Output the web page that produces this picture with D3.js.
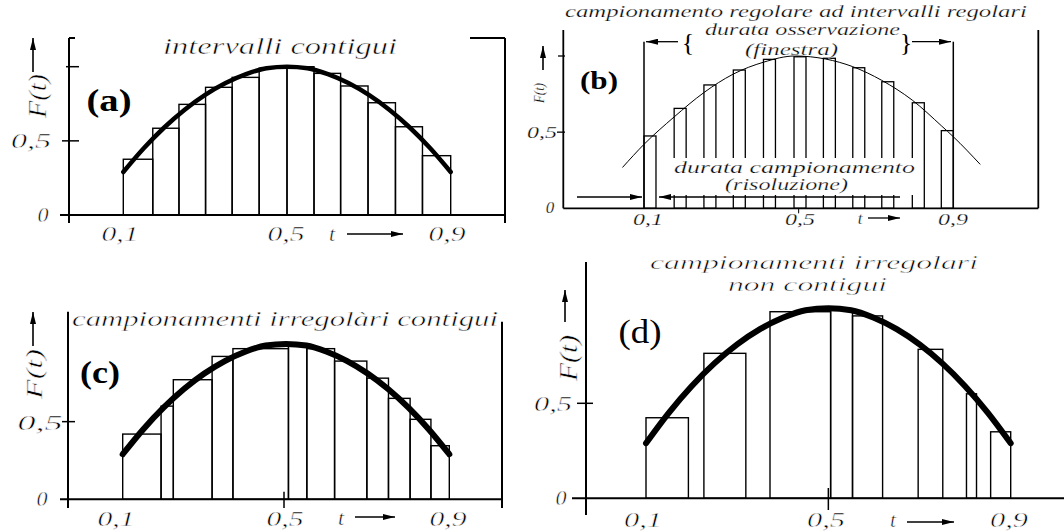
<!DOCTYPE html>
<html>
<head>
<meta charset="utf-8">
<script src="https://cdn.jsdelivr.net/npm/d3@7"></script>
<style>
  body { margin: 0; background: #fff; }
</style>
</head>
<body>
<div id="chart"></div>
<script>
// F(t) (a), (c), (d)
const curveT = [0.1, 0.15, 0.2, 0.25, 0.3, 0.35, 0.4, 0.45, 0.5, 0.55, 0.6, 0.65, 0.7, 0.75, 0.8, 0.85, 0.9];
const curveF = [0.29, 0.45, 0.59, 0.71, 0.81, 0.89, 0.95, 0.99, 1.0, 0.99, 0.95, 0.89, 0.81, 0.71, 0.59, 0.45, 0.29];

// thin curve of panel (b)
const curveBT = [0.045, 0.1, 0.178, 0.255, 0.33, 0.41, 0.49, 0.57, 0.64, 0.715, 0.794, 0.87, 0.9, 0.969];
const curveBF = [0.27, 0.42, 0.6, 0.76, 0.88, 0.96, 1.0, 0.98, 0.93, 0.84, 0.71, 0.54, 0.47, 0.29];

// (a) contiguous intervals
const barsAEdges   = [0.1, 0.172, 0.236, 0.301, 0.366, 0.432, 0.5, 0.566, 0.631, 0.698, 0.765, 0.831, 0.9];
const barsAHeights = [0.376, 0.585, 0.746, 0.861, 0.928, 0.99, 1.0, 0.955, 0.87, 0.757, 0.595, 0.40];

// (b) regular sampling, short windows
const barsBStart   = [0.1, 0.178, 0.255, 0.331, 0.409, 0.488, 0.564, 0.64, 0.715, 0.794, 0.869];
const barsBWidth   = 0.031;
const barsBHeights = [0.475, 0.656, 0.81, 0.908, 0.978, 0.995, 0.985, 0.923, 0.831, 0.693, 0.51];

// (c) irregular contiguous
const barsCEdges   = [0.1, 0.194, 0.224, 0.319, 0.37, 0.506, 0.551, 0.619, 0.698, 0.751, 0.804, 0.855, 0.9];
const barsCHeights = [0.42, 0.6, 0.77, 0.92, 0.97, 1.0, 0.97, 0.89, 0.78, 0.65, 0.515, 0.345];

// (d) irregular, not contiguous
const barsDStart   = [0.1, 0.227, 0.372, 0.505, 0.553, 0.697, 0.803, 0.856];
const barsDEnd     = [0.193, 0.319, 0.505, 0.553, 0.619, 0.751, 0.825, 0.9];
const barsDHeights = [0.424, 0.763, 0.982, 0.995, 0.96, 0.784, 0.55, 0.35];

const xTickVals   = [0.1, 0.5, 0.9];
const xTickLabels = ["0,1", "0,5", "0,9"];
const yTickVals   = [0, 0.5];
const yTickLabels = ["0", "0,5"];

const W = 1064, H = 532;
const ITAL = "'Liberation Serif', 'DejaVu Serif', serif";
const BOLD = "'Liberation Serif', 'DejaVu Serif', serif";

const svg = d3.select("#chart").append("svg")
  .attr("width", W)
  .attr("height", H)
  .style("background", "#fff");

svg.append("defs").append("marker")
  .attr("id", "arr")
  .attr("viewBox", "0 0 12 6")
  .attr("refX", 12).attr("refY", 3)
  .attr("markerWidth", 12).attr("markerHeight", 6)
  .attr("markerUnits", "userSpaceOnUse")
  .attr("orient", "auto")
  .append("path").attr("d", "M0,0 L12,3 L0,6 Z").attr("fill", "#000");

// small helpers
function seg(g, x1, y1, x2, y2, sw = 2) {
  return g.append("line")
    .attr("x1", x1).attr("y1", y1).attr("x2", x2).attr("y2", y2)
    .attr("stroke", "#000").attr("stroke-width", sw);
}
function arrow(g, x1, y1, x2, y2, sw = 1.5) {
  return seg(g, x1, y1, x2, y2, sw).attr("marker-end", "url(#arr)");
}
// the original lettering is a light face: erode the glyphs with a thin white stroke
const thin = size => (size > 18 ? 0.5 : 0.25);

function txt(g, s, x, y, size, opt = {}) {
  const t = g.append("text")
    .attr("x", x).attr("y", y)
    .attr("text-anchor", opt.anchor || "middle")
    .attr("font-family", opt.family || ITAL)
    .attr("font-style", opt.style || "italic")
    .attr("font-weight", opt.weight || "normal")
    .attr("font-size", size)
    .attr("fill", "#000")
    .text(s);
  if (!opt.style) t.attr("stroke", "#fff").attr("stroke-width", thin(size));
  if (opt.len) t.attr("textLength", opt.len).attr("lengthAdjust", "spacingAndGlyphs");
  return t;
}
function yLabel(g, cx, cy, size, len, ax, ay1, ay2) {
  g.append("text")
    .attr("transform", `translate(${cx},${cy}) rotate(-90)`)
    .attr("text-anchor", "middle")
    .attr("dy", "0.35em")
    .attr("font-family", ITAL).attr("font-style", "italic")
    .attr("font-size", size)
    .attr("stroke", "#fff").attr("stroke-width", thin(size))
    .attr("textLength", len).attr("lengthAdjust", "spacingAndGlyphs")
    .text("F(t)");
  arrow(g, ax, ay1, ax, ay2, 1.6);
}
function drawBars(g, x, y, starts, ends, heights, sw = 1.4) {
  g.append("g").selectAll("rect")
    .data(heights.map((h, i) => ({ s: starts[i], e: ends[i], h })))
    .join("rect")
      .attr("x", d => x(d.s))
      .attr("y", d => y(d.h))
      .attr("width", d => x(d.e) - x(d.s))
      .attr("height", d => y(0) - y(d.h))
      .attr("fill", "none")
      .attr("stroke", "#000")
      .attr("stroke-width", sw);
}
function drawCurve(g, x, y, ts, fs, sw) {
  const line = d3.line().x(d => x(d[0])).y(d => y(d[1])).curve(d3.curveMonotoneX);
  g.append("path")
    .attr("d", line(ts.map((t, i) => [t, fs[i]])))
    .attr("fill", "none")
    .attr("stroke", "#000")
    .attr("stroke-width", sw)
    .attr("stroke-linecap", "round");
}

// ---------- (a) ----------
{
  const g = svg.append("g");
  const x = d3.scaleLinear().domain([0.1, 0.9]).range([123.3, 450.7]);
  const y = d3.scaleLinear().domain([0, 1]).range([215, 66.7]);

  drawBars(g, x, y, barsAEdges.slice(0, -1), barsAEdges.slice(1), barsAHeights);
  drawCurve(g, x, y, curveT, curveF, 4.5);

  seg(g, 69, 38, 69, 223);
  seg(g, 69, 38, 75, 38);
  seg(g, 60, y(0), 505, y(0));
  seg(g, 505, 38, 505, 223);
  seg(g, 470, 38, 505, 38);
  seg(g, 62, y(0.5), 79, y(0.5), 1.5);
  seg(g, 66, y(1), 79, y(1), 1.5);

  txt(g, yTickLabels[0], 43, y(0) + 7, 22);
  txt(g, yTickLabels[1], 31, y(0.5) + 7, 22, { len: 40 });
  [120, 286, 447].forEach((cx, i) => txt(g, xTickLabels[i], cx, 241, 22, { len: 37 }));
  txt(g, "t", 332, 241, 22);
  arrow(g, 347, 234, 403, 234, 1.6);

  yLabel(g, 37, 96, 25, 44, 33, 72, 38);
  txt(g, "(a)", 109, 111, 31, { family: BOLD, style: "normal", weight: "bold", len: 45 });
  txt(g, "intervalli contigui", 280, 54, 23, { len: 234 });
}

// ---------- (b) ----------
{
  const g = svg.append("g");
  const x = d3.scaleLinear().domain([0.1, 0.9]).range([644, 953.3]);
  const y = d3.scaleLinear().domain([0, 1]).range([208.3, 56]);

  drawBars(g, x, y, barsBStart, barsBStart.map(s => s + barsBWidth), barsBHeights, 1.3);
  drawCurve(g, x, y, curveBT, curveBF, 1);

  // observation window
  seg(g, x(0.1), 41.7, x(0.1), y(0), 1.5);
  seg(g, x(0.9), 41.7, x(0.9), y(0), 1.5);

  seg(g, 563.3, 30, 563.3, y(0), 1.8);
  seg(g, 563.3, y(0), 1038.3, y(0), 1.8);
  seg(g, 1038.3, 30, 1038.3, y(0), 1.8);
  seg(g, 558, y(1), 565, y(1), 1.3);
  seg(g, 557, y(0.5), 565, y(0.5), 1.3);
  seg(g, x(0.5), y(0), x(0.5), y(0) + 5, 1);

  // white field behind the sampling note
  g.append("rect").attr("x", 668).attr("y", 158).attr("width", 248).attr("height", 37).attr("fill", "#fff");
  txt(g, "durata campionamento", 794.5, 173, 17, { len: 241 });
  txt(g, "(risoluzione)", 786.5, 190, 16, { len: 123 });
  arrow(g, 900, 197, 659, 197, 1.3);
  arrow(g, 577, 197, 642, 197, 1.3);

  arrow(g, 678, 41.7, 646, 41.7, 1.3);
  arrow(g, 912, 41.7, 951, 41.7, 1.3);
  txt(g, "{", 688, 51, 26, { family: BOLD, style: "normal" });
  txt(g, "}", 906, 51, 26, { family: BOLD, style: "normal" });
  txt(g, "durata osservazione", 802.5, 35, 17, { len: 195 });
  txt(g, "(finestra)", 791.5, 55, 16, { len: 93 });
  txt(g, "campionamento regolare ad intervalli regolari", 796, 17, 17, { len: 462 });

  [648, 800, 953].forEach((cx, i) => txt(g, xTickLabels[i], cx, 225, 17, { len: 30 }));
  txt(g, "t", 860, 224, 17);
  arrow(g, 868, 218, 900, 218, 1.3);
  txt(g, yTickLabels[0], 550, 213, 17);
  txt(g, yTickLabels[1], 542, 138, 17, { len: 30 });

  yLabel(g, 539, 93, 14, 20, 543, 70, 46);
  txt(g, "(b)", 599, 89, 26, { family: BOLD, style: "normal", weight: "bold", len: 38 });
}

// ---------- (c) ----------
{
  const g = svg.append("g");
  const x = d3.scaleLinear().domain([0.1, 0.9]).range([122.7, 449.3]);
  const y = d3.scaleLinear().domain([0, 1]).range([499.3, 344]);

  drawBars(g, x, y, barsCEdges.slice(0, -1), barsCEdges.slice(1), barsCHeights);
  drawCurve(g, x, y, curveT, curveF, 6);

  seg(g, 68, 311.7, 68, 508);
  seg(g, 60, y(0), 502, y(0));
  seg(g, 502, 321.7, 502, 508);
  seg(g, 62, y(0.5), 75, y(0.5), 1.5);
  seg(g, x(0.5) - 2, 491.7, x(0.5) - 2, 508, 1.5);

  txt(g, yTickLabels[0], 42, 506, 22);
  txt(g, yTickLabels[1], 40, 430, 22, { len: 45 });
  [116, 285, 448].forEach((cx, i) => txt(g, xTickLabels[i], cx, 526, 22, { len: 37 }));
  txt(g, "t", 341, 525, 22);
  arrow(g, 355, 517, 395, 517, 1.6);

  yLabel(g, 34, 374, 24, 50, 33, 346, 312);
  txt(g, "(c)", 100, 383, 31, { family: BOLD, style: "normal", weight: "bold", len: 40 });
  txt(g, "campionamenti irregolàri contigui", 285, 326, 22, { len: 426 });
}

// ---------- (d) ----------
{
  const g = svg.append("g");
  const x = d3.scaleLinear().domain([0.1, 0.9]).range([646, 1010.7]);
  const y = d3.scaleLinear().domain([0, 1]).range([498.3, 308.3]);

  drawBars(g, x, y, barsDStart, barsDEnd, barsDHeights);
  drawCurve(g, x, y, curveT, curveF, 6);

  seg(g, 586, 262, 586, 515);
  seg(g, 572, y(0), 1064, y(0));
  seg(g, 577, y(0.5), 593, y(0.5), 1.5);
  seg(g, x(0.5), 488, x(0.5), 510, 1.5);

  txt(g, yTickLabels[0], 561, 505, 22);
  txt(g, yTickLabels[1], 553, 411, 22, { len: 38 });
  [643, 826, 1009].forEach((cx, i) => txt(g, xTickLabels[i], cx, 527, 21, { len: 38 }));
  txt(g, "t", 893, 527, 21);
  arrow(g, 907, 522, 954, 522, 1.6);

  yLabel(g, 568, 358, 26, 46, 565, 322, 290);
  txt(g, "(d)", 640, 343, 33, { family: BOLD, style: "normal", len: 43 });
  txt(g, "campionamenti irregolari", 814, 269, 19, { len: 328 });
  txt(g, "non contigui", 807.5, 291, 19, { len: 159 });
}
</script>
</body>
</html>
